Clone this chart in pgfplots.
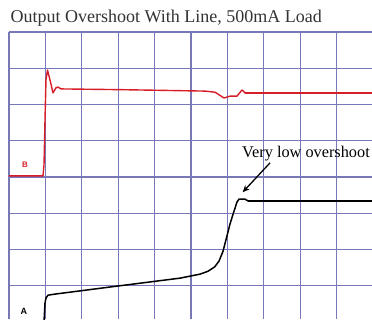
\documentclass[border=0pt]{standalone}
\usepackage{pgfplots}
\pgfplotsset{compat=1.18}
\usetikzlibrary{arrows.meta}
\usepackage{fontspec}
\setmainfont{Liberation Serif}
\setsansfont{Liberation Sans}
\definecolor{gridc}{RGB}{120,120,185}
\definecolor{trB}{RGB}{215,30,40}
\begin{document}
\begin{tikzpicture}[x=1pt,y=1pt]
\begin{axis}[
  at={(9pt,0pt)}, anchor=south west,
  scale only axis, width=363pt, height=287pt,
  xmin=0, xmax=9.973, ymin=0.083, ymax=8,
  xtick={0,1,...,9}, ytick={1,2,...,8},
  xticklabels={}, yticklabels={},
  major tick length=0pt,
  axis line style={draw=none},
  grid=major,
  major grid style={gridc, line width=1.2pt},
]
% trace B (red)
\addplot[trB, line width=1.4pt, line join=round] coordinates {
(0,4.03) (0.934,4.03) (0.962,4.33) (0.989,5.57) (1.016,6.68) (1.058,6.95)
(1.126,6.68) (1.209,6.32) (1.291,6.46) (1.346,6.48) (1.429,6.43) (3.049,6.41)
(5.385,6.37) (5.659,6.34) (5.907,6.18) (6.071,6.23) (6.264,6.23) (6.401,6.40)
(6.484,6.32) (9.973,6.32)
};
\addplot[trB, line width=2.4pt] coordinates {(6.484,6.32) (9.973,6.32)};
% trace A (black)
\addplot[black, line width=1.5pt, line join=round] coordinates {
(0.962,0) (0.989,0.52) (1.016,0.66) (1.071,0.74) (1.264,0.77) (2.967,0.99)
(4.698,1.21) (5.247,1.32) (5.467,1.40) (5.650,1.52) (5.770,1.68) (5.879,1.95) (5.990,2.38)
(6.071,2.70) (6.154,2.97) (6.264,3.31) (6.319,3.39) (6.484,3.39) (6.566,3.34)
(9.973,3.34)
};
\addplot[black, line width=2.4pt] coordinates {(6.566,3.34) (9.973,3.34)};
\node[trB, font=\sffamily\bfseries\fontsize{8}{8}\selectfont] at (axis cs:0.44,4.33) {B};
\node[black, font=\sffamily\bfseries\fontsize{9}{9}\selectfont] at (axis cs:0.41,0.30) {A};
\node[anchor=base west, inner sep=0pt, font=\fontsize{16.3}{17}\selectfont] at (axis cs:6.40,4.55) {Very low overshoot};
\draw[-{Stealth[length=7pt,width=6pt]}, line width=1.3pt] (axis cs:7.17,4.39) -- (axis cs:6.42,3.58);
\end{axis}
\node[anchor=base west, inner sep=0pt, font=\fontsize{18}{19}\selectfont, text=black!80] at (10.5pt,296pt) {Output Overshoot With Line, 500mA Load};
\pgfresetboundingbox
\useasboundingbox (0,0) rectangle (372pt,319pt);
\end{tikzpicture}
\end{document}
